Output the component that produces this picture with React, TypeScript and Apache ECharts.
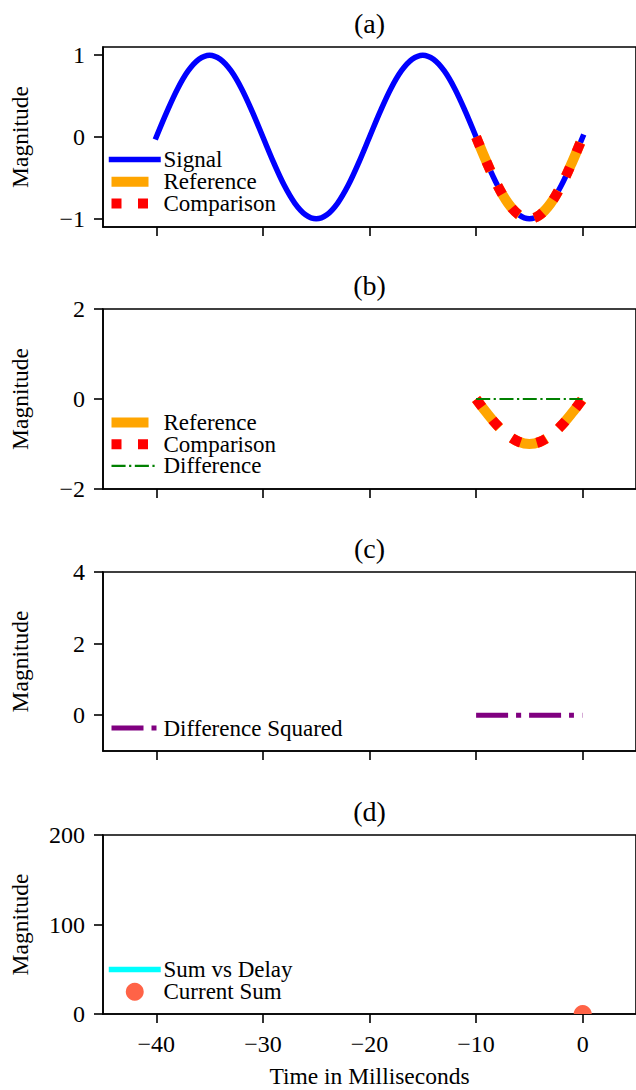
import React, { useEffect, useRef } from "react";
import * as echarts from "echarts";

const FONT = '"Liberation Serif", "Times New Roman", Times, serif';

// ---- data ----
const signalTime = [
  -40, -39, -38, -37, -36, -35, -34, -33, -32, -31, -30, -29, -28, -27, -26, -25, -24, -23, -22, -21,
  -20, -19, -18, -17, -16, -15, -14, -13, -12, -11, -10, -9, -8, -7, -6, -5, -4, -3, -2, -1, 0,
];
const signalValues = [
  0, 0.31, 0.59, 0.81, 0.95, 1.0, 0.95, 0.81, 0.59, 0.31, 0, -0.31, -0.59, -0.81, -0.95, -1.0, -0.95, -0.81, -0.59, -0.31,
  0, 0.31, 0.59, 0.81, 0.95, 1.0, 0.95, 0.81, 0.59, 0.31, 0, -0.31, -0.59, -0.81, -0.95, -1.0, -0.95, -0.81, -0.59, -0.31, 0,
];
const windowTime = [-10, -9, -8, -7, -6, -5, -4, -3, -2, -1, 0];
const referenceValues = [0, -0.31, -0.59, -0.81, -0.95, -1.0, -0.95, -0.81, -0.59, -0.31, 0];
const comparisonValues = [0, -0.31, -0.59, -0.81, -0.95, -1.0, -0.95, -0.81, -0.59, -0.31, 0];
const differenceValues = [0, 0, 0, 0, 0, 0, 0, 0, 0, 0, 0];
const differenceSquaredValues = [0, 0, 0, 0, 0, 0, 0, 0, 0, 0, 0];
const sumDelayTime = [0];
const sumDelayValues = [0];
const currentSumTime = [0];
const currentSumValues = [0];

const xTicks = [-40, -30, -20, -10, 0];
const yTicksA = [-1, 0, 1];
const yTicksB = [-2, 0, 2];
const yTicksC = [0, 2, 4];
const yTicksD = [0, 100, 200];
const panelTitles = ["(a)", "(b)", "(c)", "(d)"];

// ---- styles ----
const GRID_LEFT = 101;
const GRID_WIDTH = 537;
const GRID_TOPS = [47, 309, 572, 835];
const GRID_HEIGHTS = [180, 180, 179, 179];
const Y_RANGES = [
  [-1.1, 1.1],
  [-2, 2],
  [-1, 4],
  [0, 200],
];
const Y_TICKS = [yTicksA, yTicksB, yTicksC, yTicksD];

const LW_SIGNAL = 5.5;
const LW_REF = 10;
const LW_DIFF = 2.2;
const LW_SQ = 5;
const LW_SUM = 5.5;
const DASH_REF = [3.7 * LW_REF, 1.6 * LW_REF];
const DOT_CMP = [1 * LW_REF, 1.65 * LW_REF];
const DASHDOT_DIFF = [6.4 * LW_DIFF, 1.6 * LW_DIFF, 1 * LW_DIFF, 1.6 * LW_DIFF];
const DASHDOT_SQ = [6.4 * LW_SQ, 1.6 * LW_SQ, 1 * LW_SQ, 1.6 * LW_SQ];

const C_BLUE = "#0000ff";
const C_ORANGE = "#ffa500";
const C_RED = "#ff0000";
const C_GREEN = "#008000";
const C_PURPLE = "#800080";
const C_CYAN = "#00ffff";
const C_TOMATO = "#ff6347";

const fmt = (v: number) => (v < 0 ? "\u2212" + Math.abs(v) : String(v));
const pair = (xs: number[], ys: number[]) => xs.map((x, i) => [x, ys[i]]);

type Handle = {
  y: number;
  label: string;
  kind: "line" | "circle";
  color: string;
  lw?: number;
  dash?: number[];
  cap?: string;
};

const HX1 = 111.5;
const HX2 = 158;
const TEXT_X = 163.5;
const LEGEND_FONT = 23;

const legendRows: Handle[] = [
  { y: 159.5, label: "Signal", kind: "line", color: C_BLUE, lw: LW_SIGNAL, cap: "square" },
  { y: 181.7, label: "Reference", kind: "line", color: C_ORANGE, lw: LW_REF, dash: DASH_REF, cap: "butt" },
  { y: 203.6, label: "Comparison", kind: "line", color: C_RED, lw: LW_REF, dash: DOT_CMP, cap: "butt" },
  { y: 422.5, label: "Reference", kind: "line", color: C_ORANGE, lw: LW_REF, dash: DASH_REF, cap: "butt" },
  { y: 444.3, label: "Comparison", kind: "line", color: C_RED, lw: LW_REF, dash: DOT_CMP, cap: "butt" },
  { y: 465.8, label: "Difference", kind: "line", color: C_GREEN, lw: LW_DIFF, dash: DASHDOT_DIFF, cap: "butt" },
  { y: 728, label: "Difference Squared", kind: "line", color: C_PURPLE, lw: LW_SQ, dash: DASHDOT_SQ, cap: "butt" },
  { y: 969.6, label: "Sum vs Delay", kind: "line", color: C_CYAN, lw: LW_SUM, cap: "square" },
  { y: 991.8, label: "Current Sum", kind: "circle", color: C_TOMATO },
];

function buildGraphic() {
  const els: any[] = [];
  panelTitles.forEach((t, i) => {
    els.push({
      type: "text",
      x: GRID_LEFT + GRID_WIDTH / 2,
      y: GRID_TOPS[i] - 24,
      style: {
        text: t,
        fontSize: 28,
        fontFamily: FONT,
        fill: "#000",
        align: "center",
        verticalAlign: "middle",
      },
    });
  });
  legendRows.forEach((r) => {
    if (r.kind === "line") {
      els.push({
        type: "line",
        shape: { x1: HX1, y1: r.y, x2: HX2, y2: r.y },
        style: {
          stroke: r.color,
          lineWidth: r.lw,
          lineDash: r.dash || null,
          lineCap: r.cap || "butt",
        },
      });
    } else {
      els.push({
        type: "circle",
        shape: { cx: (HX1 + HX2) / 2, cy: r.y, r: 9 },
        style: { fill: r.color },
      });
    }
    els.push({
      type: "text",
      x: TEXT_X,
      y: r.y,
      style: {
        text: r.label,
        fontSize: LEGEND_FONT,
        lineHeight: 20,
        fontFamily: FONT,
        fill: "#000",
        align: "left",
        verticalAlign: "middle",
      },
    });
  });
  return els;
}

function buildOption() {
  const grids = GRID_TOPS.map((top, i) => ({
    left: GRID_LEFT,
    top,
    width: GRID_WIDTH,
    height: GRID_HEIGHTS[i],
    show: true,
    borderColor: "#000",
    borderWidth: 1.6,
    backgroundColor: "transparent",
  }));
  const xAxes = GRID_TOPS.map((_, i) => ({
    type: "value",
    gridIndex: i,
    min: -45,
    max: 5,
    axisLine: { show: true, onZero: false, lineStyle: { color: "#000", width: 1.6 } },
    axisTick: {
      show: true,
      length: 9,
      inside: false,
      customValues: xTicks,
      lineStyle: { color: "#000", width: 1.6 },
    },
    axisLabel: {
      show: i === 3,
      customValues: xTicks,
      formatter: fmt,
      fontSize: 24,
      fontFamily: FONT,
      color: "#000",
      margin: 18,
    },
    splitLine: { show: false },
    name: i === 3 ? "Time in Milliseconds" : "",
    nameLocation: "middle",
    nameGap: 50,
    nameTextStyle: { fontSize: 23.5, fontFamily: FONT, color: "#000" },
  }));
  const yAxes = GRID_TOPS.map((_, i) => ({
    type: "value",
    gridIndex: i,
    min: Y_RANGES[i][0],
    max: Y_RANGES[i][1],
    axisLine: { show: true, onZero: false, lineStyle: { color: "#000", width: 1.6 } },
    axisTick: {
      show: true,
      length: 9,
      inside: false,
      customValues: Y_TICKS[i],
      lineStyle: { color: "#000", width: 1.6 },
    },
    axisLabel: {
      show: true,
      customValues: Y_TICKS[i],
      formatter: fmt,
      fontSize: 24,
      fontFamily: FONT,
      color: "#000",
      margin: 18,
    },
    splitLine: { show: false },
    name: "Magnitude",
    nameLocation: "middle",
    nameRotate: 90,
    nameGap: 71,
    nameTextStyle: { fontSize: 23.5, fontFamily: FONT, color: "#000" },
  }));

  const lineSeries = (
    name: string,
    idx: number,
    data: number[][],
    color: string,
    width: number,
    type: any,
    cap: string
  ) => ({
    name,
    type: "line",
    xAxisIndex: idx,
    yAxisIndex: idx,
    data,
    showSymbol: false,
    symbol: "none",
    smooth: 0.35,
    clip: true,
    lineStyle: { color, width, type, cap, join: "round" },
    itemStyle: { color },
  });

  const series: any[] = [
    lineSeries("Signal", 0, pair(signalTime, signalValues), C_BLUE, LW_SIGNAL, "solid", "square"),
    lineSeries("Reference", 0, pair(windowTime, referenceValues), C_ORANGE, LW_REF, DASH_REF, "butt"),
    lineSeries("Comparison", 0, pair(windowTime, comparisonValues), C_RED, LW_REF, DOT_CMP, "butt"),
    lineSeries("Reference", 1, pair(windowTime, referenceValues), C_ORANGE, LW_REF, DASH_REF, "butt"),
    lineSeries("Comparison", 1, pair(windowTime, comparisonValues), C_RED, LW_REF, DOT_CMP, "butt"),
    lineSeries("Difference", 1, pair(windowTime, differenceValues), C_GREEN, LW_DIFF, DASHDOT_DIFF, "butt"),
    lineSeries("Difference Squared", 2, pair(windowTime, differenceSquaredValues), C_PURPLE, LW_SQ, DASHDOT_SQ, "butt"),
    lineSeries("Sum vs Delay", 3, pair(sumDelayTime, sumDelayValues), C_CYAN, LW_SUM, "solid", "square"),
    {
      name: "Current Sum",
      type: "custom",
      xAxisIndex: 3,
      yAxisIndex: 3,
      clip: true,
      data: pair(currentSumTime, currentSumValues),
      encode: { x: 0, y: 1 },
      renderItem: (params: any, api: any) => {
        const c = api.coord([api.value(0), api.value(1)]);
        return {
          type: "circle",
          shape: { cx: c[0], cy: c[1], r: 9 },
          style: { fill: C_TOMATO },
        };
      },
    },
  ];

  return {
    animation: false,
    backgroundColor: "#ffffff",
    grid: grids,
    xAxis: xAxes,
    yAxis: yAxes,
    series,
    graphic: { elements: buildGraphic() },
  };
}

export default function App() {
  const ref = useRef<HTMLDivElement>(null);
  useEffect(() => {
    if (!ref.current) return;
    const chart = echarts.init(ref.current, undefined, { renderer: "svg" });
    chart.setOption(buildOption() as any);
    return () => chart.dispose();
  }, []);
  return (
    <div
      ref={ref}
      style={{ position: "absolute", left: 0, top: 0, width: 636, height: 1090, background: "#fff" }}
    />
  );
}
